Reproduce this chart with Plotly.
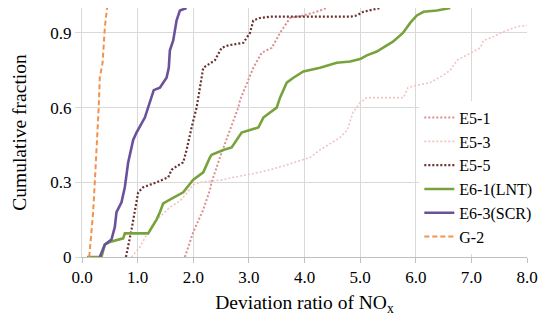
import plotly.graph_objects as go

# ---- data ----
e51_x = [1.85, 2.00, 2.18, 2.30, 2.33, 2.48, 2.66, 2.81, 2.84, 2.99, 3.08, 3.23, 3.41, 3.56, 3.74, 3.98, 4.22, 4.40]
e51_y = [0, 0.10, 0.19, 0.27, 0.30, 0.40, 0.51, 0.60, 0.63, 0.71, 0.76, 0.82, 0.84, 0.90, 0.96, 0.97, 0.985, 1.0]

e53_x = [0.89, 1.04, 1.28, 1.52, 1.58, 1.76, 1.82, 2.00, 2.12, 2.54, 2.72, 3.08, 3.38, 3.68, 3.98, 4.10,
         4.28, 4.51, 4.64, 4.77, 4.87, 5.00, 5.12, 5.78, 5.86, 6.02, 6.26, 6.49, 6.62, 6.74, 6.98, 7.16,
         7.22, 7.40, 7.58, 7.82, 8.00]
e53_y = [0, 0.04, 0.135, 0.19, 0.20, 0.225, 0.24, 0.29, 0.30, 0.31, 0.32, 0.335, 0.35, 0.37, 0.39, 0.40,
         0.43, 0.46, 0.48, 0.51, 0.58, 0.62, 0.64, 0.64, 0.68, 0.69, 0.70, 0.73, 0.75, 0.79, 0.82, 0.84,
         0.87, 0.885, 0.905, 0.925, 0.93]

e55_x = [0.79, 0.89, 1.01, 1.10, 1.34, 1.55, 1.61, 1.67, 1.82, 1.88, 1.97, 2.06, 2.12, 2.18, 2.39, 2.51,
         2.63, 2.90, 3.02, 3.08, 3.20, 3.38, 4.82, 4.94, 5.06, 5.36]
e55_y = [0, 0.11, 0.26, 0.28, 0.30, 0.32, 0.35, 0.36, 0.38, 0.43, 0.52, 0.60, 0.68, 0.76, 0.79, 0.84,
         0.85, 0.86, 0.90, 0.95, 0.96, 0.965, 0.965, 0.97, 0.985, 1.0]

e61_x = [0.09, 0.35, 0.41, 0.50, 0.74, 0.77, 1.19, 1.28, 1.34, 1.40, 1.46, 1.58, 1.82, 2.00, 2.18, 2.30,
         2.33, 2.54, 2.69, 2.81, 2.87, 3.02, 3.17, 3.26, 3.38, 3.50, 3.56, 3.68, 3.80, 3.98, 4.28, 4.58,
         4.82, 5.00, 5.12, 5.30, 5.48, 5.59, 5.77, 5.90, 6.02, 6.14, 6.38, 6.62]
e61_y = [0, 0, 0.05, 0.06, 0.075, 0.095, 0.095, 0.13, 0.15, 0.18, 0.215, 0.23, 0.26, 0.31, 0.34, 0.40,
         0.41, 0.43, 0.44, 0.48, 0.50, 0.51, 0.52, 0.56, 0.58, 0.60, 0.64, 0.70, 0.72, 0.745, 0.76, 0.78,
         0.785, 0.795, 0.81, 0.825, 0.85, 0.865, 0.90, 0.94, 0.97, 0.985, 0.99, 1.0]

e63_x = [0.32, 0.38, 0.41, 0.53, 0.59, 0.62, 0.71, 0.77, 0.83, 0.92, 0.98, 1.13, 1.22, 1.29, 1.40, 1.52,
         1.56, 1.58, 1.64, 1.70, 1.76, 1.88]
e63_y = [0, 0.03, 0.05, 0.07, 0.12, 0.18, 0.22, 0.28, 0.38, 0.47, 0.50, 0.56, 0.62, 0.67, 0.68, 0.72,
         0.76, 0.83, 0.87, 0.95, 0.99, 1.0]

g2_x = [0.13, 0.17, 0.20, 0.23, 0.27, 0.30, 0.32, 0.35, 0.37, 0.39, 0.41, 0.45]
g2_y = [0, 0.10, 0.18, 0.30, 0.46, 0.60, 0.72, 0.76, 0.78, 0.85, 0.92, 1.0]

x_ticks = [0, 1, 2, 3, 4, 5, 6, 7, 8]
x_tick_labels = ["0.0", "1.0", "2.0", "3.0", "4.0", "5.0", "6.0", "7.0", "8.0"]
y_ticks = [0, 0.3, 0.6, 0.9]
y_tick_labels = ["0", "0.3", "0.6", "0.9"]

series = [
    ("E5-1", e51_x, e51_y, "#dc8f8f", 2, "2px,2px"),
    ("E5-3", e53_x, e53_y, "#f1c3c3", 1.6, "2px,2px"),
    ("E5-5", e55_x, e55_y, "#6b2f2f", 2.2, "2px,2px"),
    ("E6-1(LNT)", e61_x, e61_y, "#78a33c", 2.6, "solid"),
    ("E6-3(SCR)", e63_x, e63_y, "#6a519c", 2.6, "solid"),
    ("G-2", g2_x, g2_y, "#f4914a", 2, "5px,3px"),
]

fig = go.Figure()
for name, xs, ys, color, w, dash in series:
    fig.add_trace(go.Scatter(x=xs, y=ys, mode="lines", name=name,
                             line=dict(color=color, width=w, dash=dash)))

font_family = "Liberation Serif, Times New Roman, serif"
# The page body has an 8px default margin, so the figure is 8px smaller
# and the left/top margins are reduced by 8px to keep the plot in place.
fig.update_layout(
    width=539, height=313,
    margin=dict(l=74, r=20, t=0, b=64),
    paper_bgcolor="white", plot_bgcolor="white",
    font=dict(family=font_family, size=17, color="#000000"),
    showlegend=True,
    legend=dict(x=0.758, y=0.628, xanchor="left", yanchor="top",
                bgcolor="white", borderwidth=0,
                font=dict(family=font_family, size=16, color="#000000"),
                tracegroupgap=0, itemwidth=30),
    xaxis=dict(range=[0, 8], tickvals=x_ticks, ticktext=x_tick_labels,
               showgrid=True, gridcolor="#d9d9d9", gridwidth=1,
               showline=True, linecolor="#bfbfbf", linewidth=1,
               ticks="outside", ticklen=5, tickcolor="#bfbfbf",
               zeroline=False,
               title=dict(text="Deviation ratio of NO<sub>x</sub>",
                          font=dict(family=font_family, size=19.5), standoff=8),
               tickfont=dict(family=font_family, size=17)),
    yaxis=dict(range=[0, 1.0], tickvals=y_ticks, ticktext=y_tick_labels,
               showgrid=True, gridcolor="#d9d9d9", gridwidth=1,
               showline=True, linecolor="#d9d9d9", linewidth=1,
               ticks="outside", ticklen=6, tickcolor="#d9d9d9",
               zeroline=False,
               title=dict(text="Cumulative fraction",
                          font=dict(family=font_family, size=19.5), standoff=18),
               tickfont=dict(family=font_family, size=17)),
)

fig.write_html("out.html")
